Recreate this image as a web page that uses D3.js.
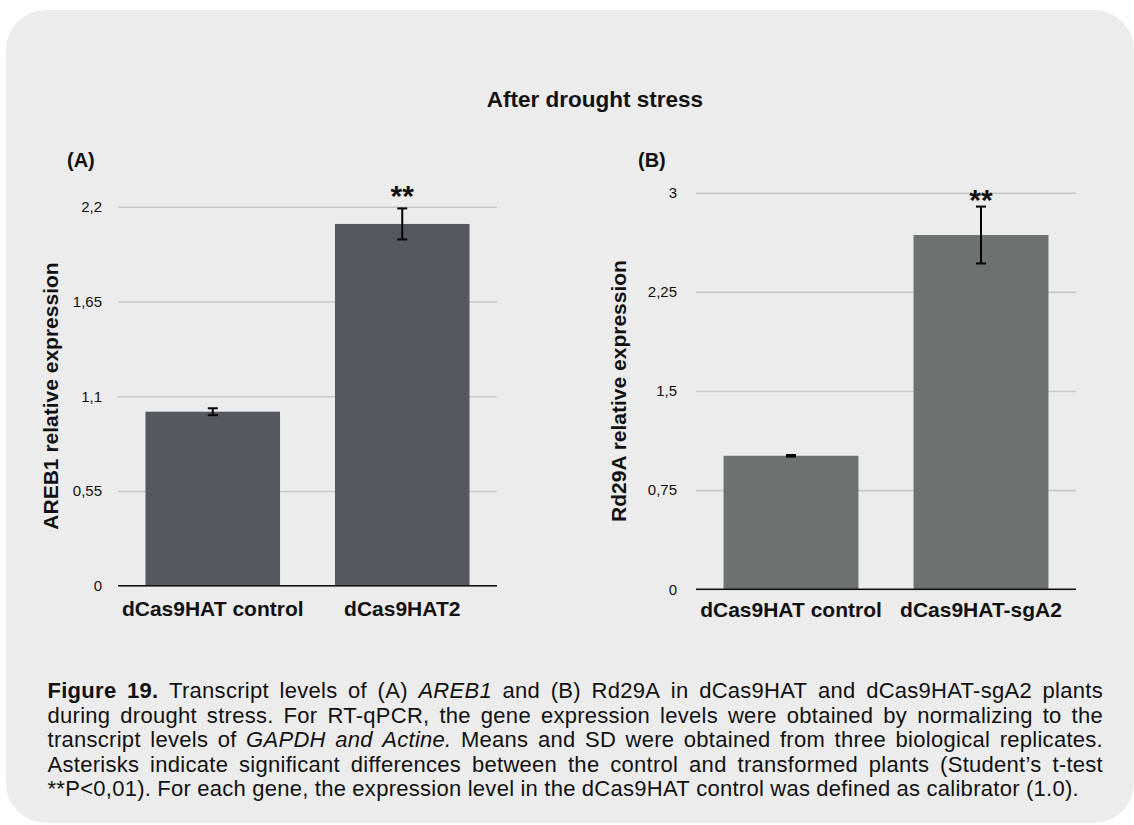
<!DOCTYPE html>
<html>
<head>
<meta charset="utf-8">
<script src="https://cdn.jsdelivr.net/npm/d3@7"></script>
<style>
  html, body { margin: 0; padding: 0; background: #ffffff; }
  svg { display: block; }
  text { font-family: "Liberation Sans", Arial, Helvetica, sans-serif; fill: #111; }
</style>
</head>
<body>
<svg id="fig" width="1134" height="825"></svg>
<script>
// ---- data ----
const titleText = "After drought stress";

const panelLabelA = "(A)";
const categoriesA = ["dCas9HAT control", "dCas9HAT2"];
const valuesA = [1.01, 2.1];
const errorsA = [0.02, 0.09];
const signifA = ["", "**"];
const ticksA = [0, 0.55, 1.1, 1.65, 2.2];
const yTitleA = "AREB1 relative expression";

const panelLabelB = "(B)";
const categoriesB = ["dCas9HAT control", "dCas9HAT-sgA2"];
const valuesB = [1.01, 2.68];
const errorsB = [0.006, 0.215];
const signifB = ["", "**"];
const ticksB = [0, 0.75, 1.5, 2.25, 3];
const yTitleB = "Rd29A relative expression";

// caption lines: segments with style (n = normal, b = bold, i = italic)
const captionLines = [
  [["b", "Figure 19."], ["n", "Transcript levels of (A)"], ["i", "AREB1"], ["n", "and (B) Rd29A in dCas9HAT and dCas9HAT-sgA2 plants"]],
  [["n", "during drought stress. For RT-qPCR, the gene expression levels were obtained by normalizing to the"]],
  [["n", "transcript levels of"], ["i", "GAPDH and Actine."], ["n", "Means and SD were obtained from three biological replicates."]],
  [["n", "Asterisks indicate significant differences between the control and transformed plants (Student\u2019s t-test"]],
  [["n", "**P<0,01). For each gene, the expression level in the dCas9HAT control was defined as calibrator (1.0)."]]
];

// ---- setup ----
const svg = d3.select("#fig");
const commaLocale = d3.formatLocale({ decimal: ",", thousands: ".", grouping: [3], currency: ["", "\u20ac"] });
const tickFmt = commaLocale.format("~g");

// rounded grey card behind everything
svg.append("rect")
  .attr("x", 6).attr("y", 10)
  .attr("width", 1128).attr("height", 813)
  .attr("rx", 40).attr("ry", 40)
  .attr("fill", "#ececec");

svg.append("text")
  .attr("x", 595).attr("y", 107)
  .attr("text-anchor", "middle")
  .style("font-weight", "bold").style("font-size", "22.5px")
  .text(titleText);

function drawPanel(opt) {
  const g = svg.append("g");
  const x = d3.scaleBand().domain(opt.categories).range([opt.x0, opt.x1]).paddingInner(0.29).paddingOuter(0.145);
  const y = d3.scaleLinear().domain([0, opt.ticks[opt.ticks.length - 1]]).range([opt.y0, opt.yTop]);

  // grid + tick labels
  const axis = g.append("g")
    .attr("transform", `translate(${opt.x0},0)`)
    .call(d3.axisLeft(y).tickValues(opt.ticks).tickFormat(tickFmt)
      .tickSize(-(opt.x1 - opt.x0)).tickPadding(opt.pad));
  axis.select(".domain").remove();
  axis.selectAll(".tick line").attr("stroke", "#c8c8c8").attr("stroke-width", 1.6);
  axis.selectAll(".tick text")
    .style("font-size", "15px").style("font-family", "'Liberation Sans', Arial, sans-serif")
    .attr("fill", "#222");

  // bars
  g.selectAll("rect.bar").data(opt.values).join("rect")
    .attr("class", "bar")
    .attr("x", (d, i) => x(opt.categories[i]))
    .attr("width", x.bandwidth())
    .attr("y", d => y(d))
    .attr("height", d => y(0) - y(d))
    .attr("fill", opt.color);

  // baseline
  g.append("line")
    .attr("x1", opt.x0).attr("x2", opt.x1)
    .attr("y1", y(0)).attr("y2", y(0))
    .attr("stroke", "#111").attr("stroke-width", 1.6);

  // error bars
  const capW = 10;
  opt.values.forEach((v, i) => {
    const cx = x(opt.categories[i]) + x.bandwidth() / 2;
    const e = opt.errors[i];
    const eg = g.append("g").attr("stroke", "#000").attr("stroke-width", 2);
    eg.append("line").attr("x1", cx).attr("x2", cx).attr("y1", y(v + e)).attr("y2", y(v - e));
    eg.append("line").attr("x1", cx - capW / 2).attr("x2", cx + capW / 2).attr("y1", y(v + e)).attr("y2", y(v + e));
    eg.append("line").attr("x1", cx - capW / 2).attr("x2", cx + capW / 2).attr("y1", y(v - e)).attr("y2", y(v - e));
    if (opt.signif[i]) {
      g.append("text")
        .attr("x", cx).attr("y", y(v + e) - opt.starGap)
        .attr("text-anchor", "middle")
        .style("font-weight", "bold").style("font-size", "30px")
        .text(opt.signif[i]);
    }
  });

  // category labels
  g.selectAll("text.cat").data(opt.categories).join("text")
    .attr("class", "cat")
    .attr("x", d => x(d) + x.bandwidth() / 2)
    .attr("y", opt.catY)
    .attr("text-anchor", "middle")
    .style("font-weight", "bold").style("font-size", "21px")
    .text(d => d);

  // y title
  g.append("text")
    .attr("transform", `translate(${opt.yTitleX},${opt.yTitleY}) rotate(-90)`)
    .attr("text-anchor", "middle")
    .attr("dominant-baseline", "central")
    .style("font-weight", "bold").style("font-size", "21px")
    .text(opt.yTitle);

  // panel label
  g.append("text")
    .attr("x", opt.labelX).attr("y", opt.labelY)
    .style("font-weight", "bold").style("font-size", "20px")
    .text(opt.label);
}

drawPanel({
  categories: categoriesA, values: valuesA, errors: errorsA, signif: signifA, ticks: ticksA,
  x0: 118, x1: 497, y0: 585.7, yTop: 206.7, pad: 16, color: "#55595f", starGap: 2,
  catY: 616, yTitle: yTitleA, yTitleX: 50, yTitleY: 396,
  label: panelLabelA, labelX: 67, labelY: 167
});

drawPanel({
  categories: categoriesB, values: valuesB, errors: errorsB, signif: signifB, ticks: ticksB,
  x0: 696, x1: 1076, y0: 589.3, yTop: 192.7, pad: 19, color: "#6d7270", starGap: -3,
  catY: 617, yTitle: yTitleB, yTitleX: 618, yTitleY: 391,
  label: panelLabelB, labelX: 638, labelY: 167
});

// ---- caption, justified word by word ----
const capLeft = 47.5, capRight = 1103, capFont = 22, capTrack = 0.28;
const capBaselines = [698, 722.5, 747, 771.5, 796];
const capG = svg.append("g").style("font-size", capFont + "px").style("letter-spacing", capTrack + "px");

captionLines.forEach((segs, li) => {
  const words = [];
  segs.forEach(([st, txt]) => txt.split(" ").forEach(w => { if (w) words.push({ st, w }); }));
  const nodes = words.map(o => {
    const t = capG.append("text").attr("y", capBaselines[li]).text(o.w);
    if (o.st === "b") t.style("font-weight", "bold");
    if (o.st === "i") t.style("font-style", "italic");
    return t;
  });
  const widths = nodes.map(n => n.node().getComputedTextLength());
  const total = d3.sum(widths);
  const last = li === captionLines.length - 1;
  const gap = last ? capFont * 0.278 : (capRight - capLeft - total) / (words.length - 1);
  let cx = capLeft;
  nodes.forEach((n, i) => { n.attr("x", cx); cx += widths[i] + gap; });
});
</script>
</body>
</html>
